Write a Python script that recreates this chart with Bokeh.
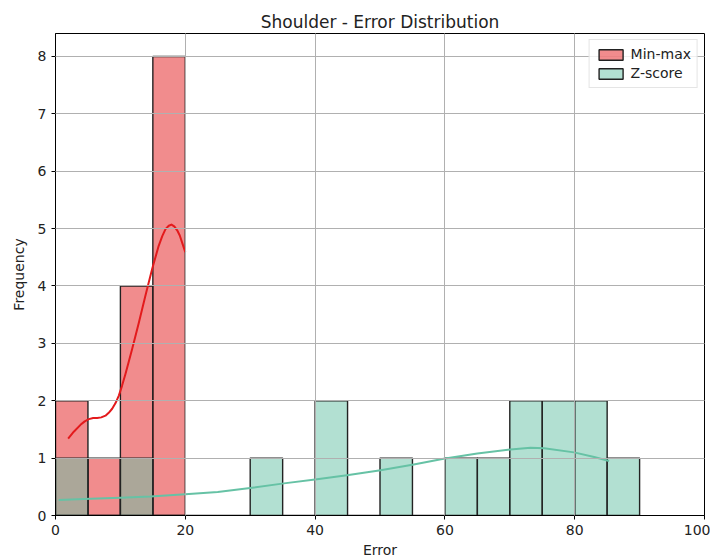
from bokeh.plotting import figure
from bokeh.models import Range1d, FixedTicker
from bokeh.embed import file_html
from bokeh.resources import INLINE

# ---- data ----
bin_width = 5
minmax_left = [0, 5, 10, 15]
minmax_counts = [2, 1, 4, 8]
zscore_left = [0, 5, 10, 15, 20, 25, 30, 35, 40, 45, 50, 55, 60, 65, 70, 75, 80, 85]
zscore_counts = [1, 0, 1, 0, 0, 0, 1, 0, 2, 0, 1, 0, 1, 1, 2, 2, 2, 1]

minmax_kde_x = [1.95, 2.82, 3.85, 4.5, 5.14, 5.8, 6.42, 7.05, 7.70, 8.2, 8.73, 9.25, 9.76,
                10.25, 10.79, 11.81, 12.84, 13.87, 14.9, 15.9, 16.45, 16.95, 17.45, 17.87,
                18.3, 18.75, 19.15, 19.5, 20.0]
minmax_kde_y = [1.34, 1.46, 1.58, 1.64, 1.68, 1.70, 1.70, 1.71, 1.74, 1.79, 1.86, 1.96, 2.09,
                2.26, 2.47, 2.90, 3.36, 3.84, 4.30, 4.70, 4.87, 4.99, 5.05, 5.07,
                5.04, 4.97, 4.88, 4.76, 4.59]
zscore_kde_x = [0.5, 5.4, 10.0, 14.6, 20.0, 25.0, 30.0, 35.2, 40.3, 44.9, 50.1, 55.2,
                59.8, 65.0, 70.1, 73.2, 75.3, 79.9, 83.0, 85.3]
zscore_kde_y = [0.27, 0.29, 0.31, 0.33, 0.37, 0.41, 0.48, 0.56, 0.63, 0.70, 0.79, 0.89,
                0.99, 1.08, 1.15, 1.18, 1.17, 1.10, 1.02, 0.95]

x_ticks = [0, 20, 40, 60, 80, 100]
y_ticks = [0, 1, 2, 3, 4, 5, 6, 7, 8]

red = "#e31a1c"
teal = "#66c2a5"
FONT = "DejaVu Sans"

p = figure(frame_width=649, frame_height=482, output_backend="svg", toolbar_location=None,
           x_range=Range1d(0, 100), y_range=Range1d(0, 8.4),
           min_border_left=55, min_border_right=6, min_border_top=33, min_border_bottom=10,
           title="Shoulder - Error Distribution")
p.title.align = "center"
p.title.text_font = FONT
p.title.text_font_size = "17px"
p.title.text_font_style = "normal"
p.title.text_color = "#222222"
p.title.standoff = 4

# bars
p.quad(left=minmax_left, right=[l + bin_width for l in minmax_left], bottom=0, top=minmax_counts,
       fill_color=red, fill_alpha=0.5, line_color="#222222", line_width=1.4,
       legend_label="Min-max")
p.quad(left=zscore_left, right=[l + bin_width for l in zscore_left], bottom=0, top=zscore_counts,
       fill_color=teal, fill_alpha=0.5, line_color="#222222", line_width=1.4,
       legend_label="Z-score")

# kde lines
p.line(minmax_kde_x, minmax_kde_y, line_color=red, line_width=2, line_join="round")
p.line(zscore_kde_x, zscore_kde_y, line_color=teal, line_width=2, line_join="round")

# axes
for ax in (p.xaxis[0], p.yaxis[0]):
    ax.axis_line_color = "black"
    ax.major_tick_line_color = "black"
    ax.major_tick_out = 4
    ax.major_tick_in = 0
    ax.minor_tick_line_color = None
    ax.major_label_text_font = FONT
    ax.major_label_text_font_size = "14px"
    ax.major_label_text_color = "#222222"
    ax.axis_label_text_font = FONT
    ax.axis_label_text_font_size = "14px"
    ax.axis_label_text_font_style = "normal"
    ax.axis_label_text_color = "#222222"
p.xaxis.ticker = FixedTicker(ticks=x_ticks)
p.yaxis.ticker = FixedTicker(ticks=y_ticks)
p.xaxis.axis_label = "Error"
p.yaxis.axis_label = "Frequency"
p.xaxis.major_label_standoff = 5
p.xaxis.axis_label_standoff = 4
p.yaxis.major_label_standoff = 5
p.yaxis.axis_label_standoff = 8

p.outline_line_color = "black"
p.outline_line_width = 1

p.grid.grid_line_color = "#b0b0b0"
p.grid.grid_line_width = 1
p.grid.level = "guide"
p.xgrid.ticker = FixedTicker(ticks=x_ticks)
p.ygrid.ticker = FixedTicker(ticks=y_ticks)

p.legend.location = "top_right"
p.legend.margin = 6
p.legend.padding = 6
p.legend.spacing = 3
p.legend.border_line_color = "#cccccc"
p.legend.border_line_width = 1
p.legend.background_fill_alpha = 0.8
p.legend.label_text_font = FONT
p.legend.label_text_font_size = "14px"
p.legend.label_text_color = "#222222"
p.legend.glyph_width = 30
p.legend.glyph_height = 13
p.legend.label_height = 15

open("out.html", "w").write(file_html(p, INLINE))
